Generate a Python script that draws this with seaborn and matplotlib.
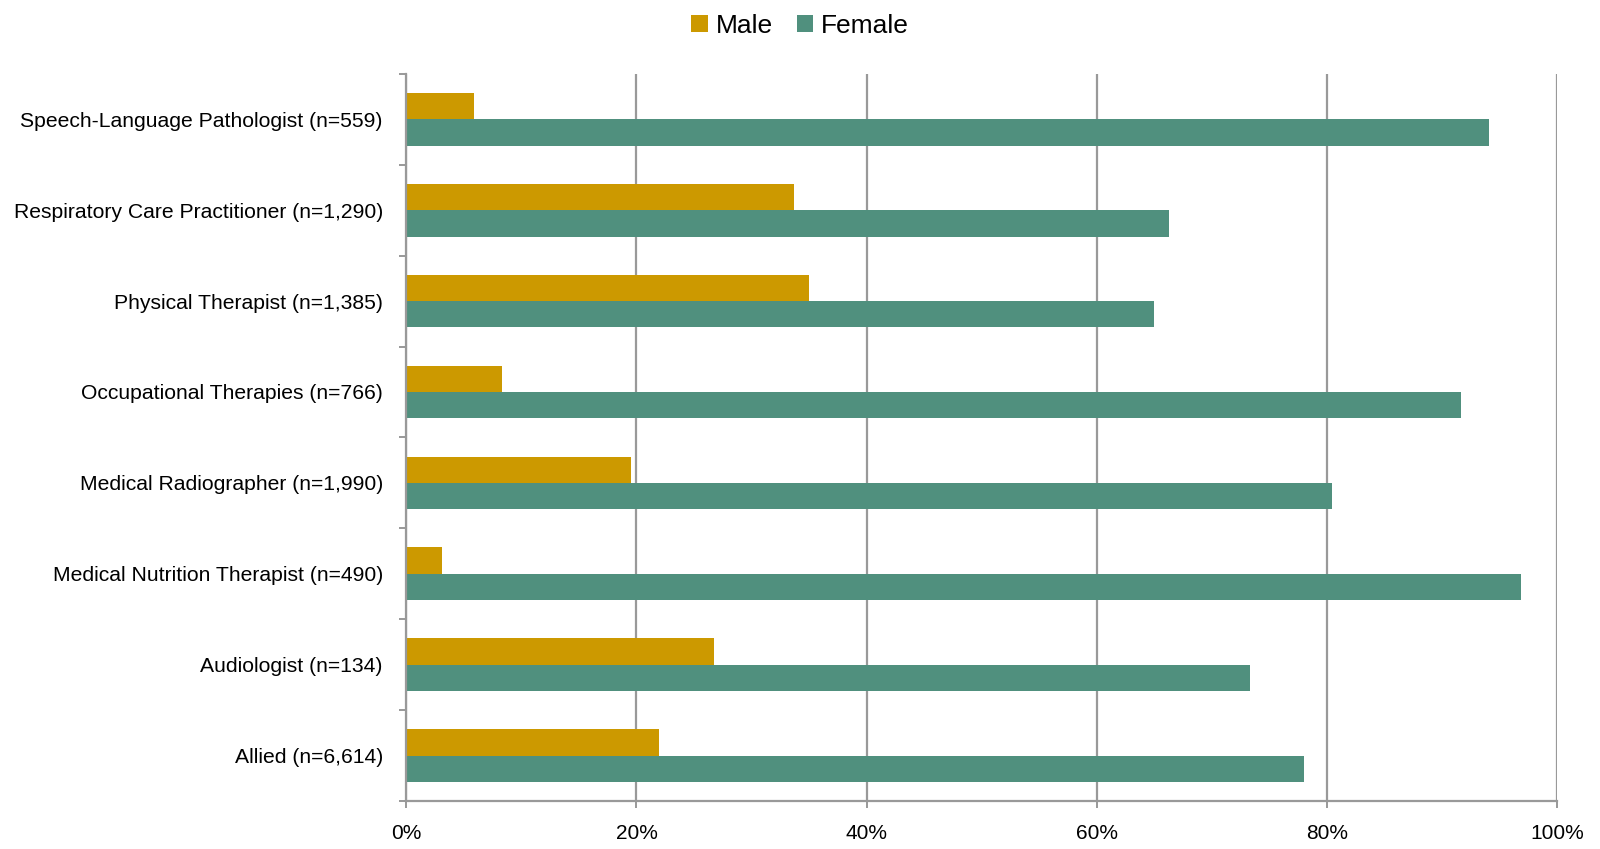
import matplotlib
matplotlib.use("Agg")
import matplotlib.pyplot as plt
import seaborn as sns
import pandas as pd
import numpy as np
from matplotlib.ticker import FixedLocator, PercentFormatter

categories = [
    "Speech-Language Pathologist (n=559)",
    "Respiratory Care Practitioner (n=1,290)",
    "Physical Therapist (n=1,385)",
    "Occupational Therapies (n=766)",
    "Medical Radiographer (n=1,990)",
    "Medical Nutrition Therapist (n=490)",
    "Audiologist (n=134)",
    "Allied (n=6,614)",
]
male = [5.9, 33.7, 35.0, 8.3, 19.5, 3.1, 26.7, 22.0]
female = [94.1, 66.3, 65.0, 91.7, 80.5, 96.9, 73.3, 78.0]
series = ["Male", "Female"]
colors = {"Male": "#CC9900", "Female": "#50907E"}

df = pd.DataFrame({
    "category": categories * 2,
    "value": male + female,
    "sex": ["Male"] * len(categories) + ["Female"] * len(categories),
})

sns.set_theme(style="white")
plt.rcParams["font.family"] = ["Liberation Sans", "DejaVu Sans"]
plt.rcParams["text.color"] = "black"

fig = plt.figure(figsize=(16, 8.49), dpi=100)
ax = fig.add_axes([0.254, 0.0565, 0.719, 0.8565])

sns.barplot(data=df, y="category", x="value", hue="sex", order=categories,
            hue_order=series, palette=colors, width=0.58, saturation=1,
            orient="h", ax=ax, legend=True, linewidth=0, edgecolor="none")

ax.set_xlim(0, 100)
ax.set_ylim(len(categories) - 0.5, -0.5)
ax.set_xticks(np.arange(0, 101, 20))
ax.xaxis.set_major_formatter(PercentFormatter(decimals=0))
ax.grid(axis="x", color="#999999", linewidth=1.6)
ax.set_axisbelow(True)
ax.set_xlabel("")
ax.set_ylabel("")

grey = "#999999"
for side in ["top", "right"]:
    ax.spines[side].set_visible(False)
for side in ["left", "bottom"]:
    ax.spines[side].set_visible(True)
    ax.spines[side].set_color(grey)
    ax.spines[side].set_linewidth(1.6)

ax.tick_params(axis="y", which="major", length=0, pad=17, labelsize=15.2, labelcolor="black")
ax.yaxis.set_minor_locator(FixedLocator(np.arange(-0.5, len(categories), 1.0)))
ax.tick_params(axis="y", which="minor", left=True, length=5, width=1.4, color=grey, direction="out")
ax.tick_params(axis="x", which="major", bottom=True, length=5, width=1.4, color=grey,
               direction="out", pad=11.5, labelsize=15, labelcolor="black")

handles, labels = ax.get_legend_handles_labels()
ax.get_legend().remove()
leg = fig.legend(handles, labels, loc="upper center", bbox_to_anchor=(0.5, 1.012), ncol=2,
                 frameon=False, fontsize=19, handlelength=0.62, handleheight=0.62,
                 handletextpad=0.3, columnspacing=0.9)
for t in leg.get_texts():
    t.set_color("black")

fig.savefig("out.png", dpi=100)
